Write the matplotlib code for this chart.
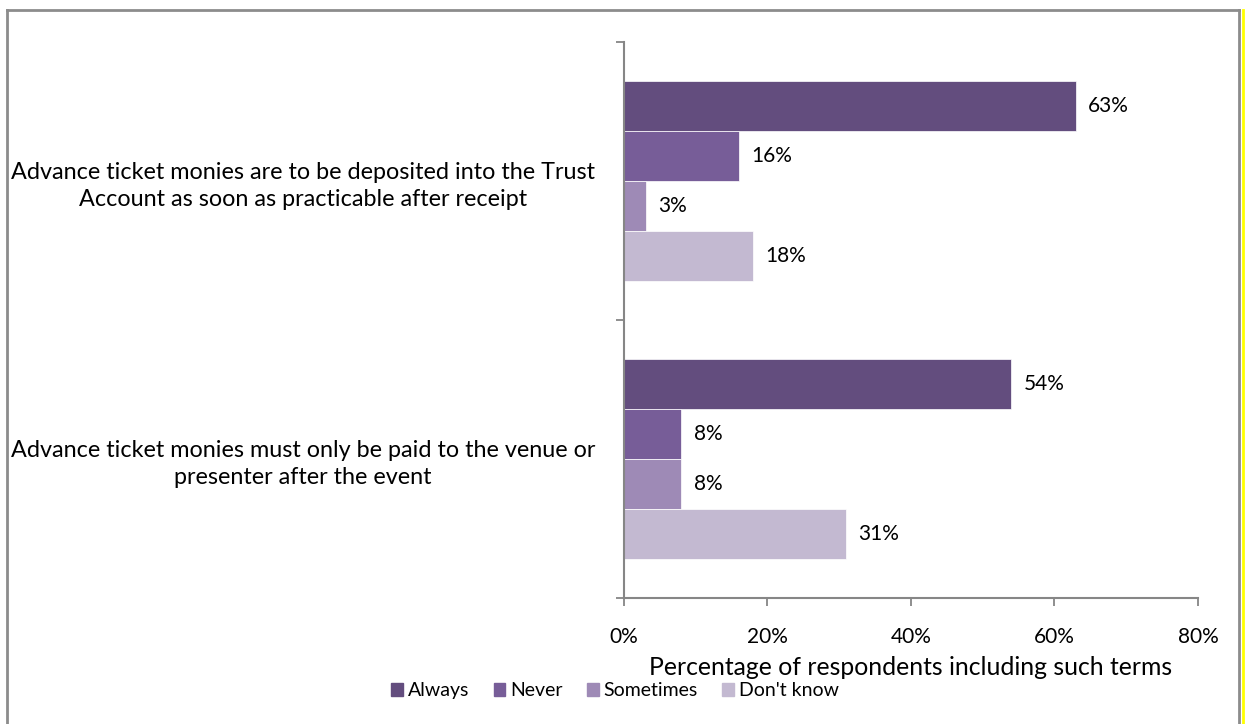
import matplotlib
matplotlib.use("Agg")
import matplotlib.pyplot as plt
from matplotlib.patches import Rectangle
from matplotlib.lines import Line2D

plt.rcParams['font.family'] = ['Lato', 'DejaVu Sans']

categories = ["Advance ticket monies are to be deposited into the Trust\nAccount as soon as practicable after receipt",
              "Advance ticket monies must only be paid to the venue or\npresenter after the event"]
series = ["Always", "Never", "Sometimes", "Don't know"]
always = [63, 54]
never = [16, 8]
sometimes = [3, 8]
dont_know = [18, 31]
colors = ['#634D7E', '#775D98', '#9E8AB6', '#C3B9D1']

fig = plt.figure(figsize=(12.45, 7.24), dpi=100)
ax = fig.add_axes([0.5012, 0.174, 0.461, 0.768])

h = 0.18
offsets = [-1.5 * h, -0.5 * h, 0.5 * h, 1.5 * h]
for vals, name, c, off in zip([always, never, sometimes, dont_know], series, colors, offsets):
    ys = [i + off for i in range(len(categories))]
    ax.barh(ys, vals, height=h, color=c, label=name, edgecolor='white', linewidth=0.5)
    for y, v in zip(ys, vals):
        ax.text(v + 1.7, y, "{}%".format(v), va='center', ha='left', fontsize=15)

ax.set_xlim(0, 80)
ax.set_ylim(1.5, -0.5)
ax.set_xticks(range(0, 81, 20))
ax.set_xticklabels(["{}%".format(v) for v in range(0, 81, 20)], fontsize=15)
ax.set_yticks(range(len(categories)))
ax.set_yticklabels(categories, fontsize=16.8, ha='center', multialignment='center', linespacing=1.35)
ax.tick_params(axis='y', length=0, pad=231)
ax.set_yticks([-0.5, 0.5, 1.5], minor=True)
ax.tick_params(axis='y', which='minor', length=6, color='#868686', width=1.3)
ax.tick_params(axis='x', length=6, color='#868686', width=1.3, pad=15)

for s in ['top', 'right']:
    ax.spines[s].set_visible(False)
for s in ['left', 'bottom']:
    ax.spines[s].set_color('#868686')
    ax.spines[s].set_linewidth(1.5)

ax.set_xlabel("Percentage of respondents including such terms", fontsize=17.8, labelpad=6)

handles = [Rectangle((0, 0), 1, 1, color=c) for c in colors]
fig.legend(handles, series, loc='center', bbox_to_anchor=(0.494, 0.046), ncol=4, frameon=False,
           fontsize=14, handlelength=0.6, handleheight=0.6, handletextpad=0.25, columnspacing=1.25)

# outer chart frame
fig.add_artist(Line2D([0.006, 0.006], [0, 0.986], color='#8C8C8C', lw=2, transform=fig.transFigure))
fig.add_artist(Line2D([0.006, 0.995], [0.986, 0.986], color='#8C8C8C', lw=2, transform=fig.transFigure))
fig.add_artist(Line2D([0.995, 0.995], [0, 0.986], color='#8C8C8C', lw=2, transform=fig.transFigure))
fig.add_artist(Line2D([0.998, 0.998], [0, 0.986], color='#FFFF00', lw=2, transform=fig.transFigure))

fig.savefig("out.png", dpi=100)
